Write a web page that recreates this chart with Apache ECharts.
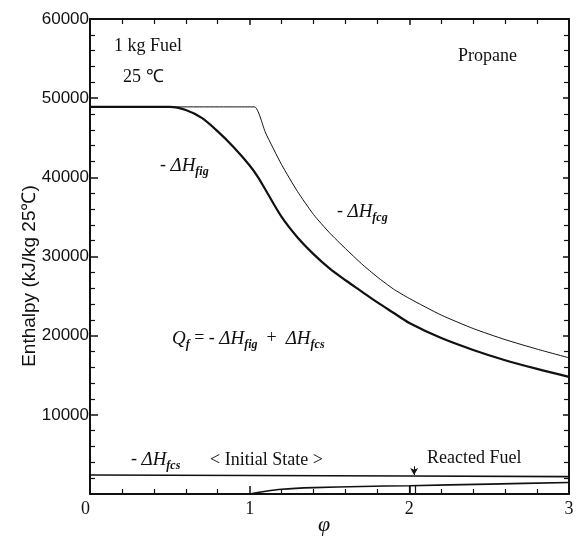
<!DOCTYPE html>
<html>
<head>
<meta charset="utf-8">
<script src="https://cdn.jsdelivr.net/npm/echarts@6/dist/echarts.min.js"></script>
<style>
  html, body { margin: 0; padding: 0; background: #fff; }
  #chart { width: 577px; height: 539px; }
</style>
</head>
<body>
<div id="chart"></div>
<script>
// Equivalence ratio (phi) vs enthalpy per kg of propane at 25 °C
const phiFcg = [0, 0.9, 1.03, 1.1, 1.2, 1.3, 1.4, 1.5, 1.6, 1.7, 1.8, 1.9, 2.0, 2.2, 2.4, 2.6, 2.8, 3.0];
const hFcg   = [48900, 48900, 48900, 45600, 41600, 38200, 35300, 33000, 31000, 29100, 27400, 25900, 24700, 22600, 20900, 19500, 18300, 17200];

const phiFig = [0, 0.5, 0.6, 0.7, 0.8, 0.9, 1.0, 1.05, 1.1, 1.2, 1.3, 1.4, 1.5, 1.6, 1.7, 1.8, 1.9, 2.0, 2.2, 2.4, 2.6, 2.8, 3.0];
const hFig   = [48900, 48900, 48500, 47500, 45800, 43800, 41500, 40100, 38400, 35000, 32400, 30300, 28500, 27000, 25600, 24200, 22900, 21600, 19700, 18200, 16900, 15800, 14800];

const phiFcs = [0, 1, 2, 3];
const hFcs   = [2400, 2330, 2270, 2200];

const phiReacted = [1.0, 1.1, 1.2, 1.4, 1.7, 2.0, 2.5, 3.0];
const hReacted   = [0, 350, 600, 800, 950, 1050, 1250, 1450];

const xTicks = [0, 1, 2, 3];
const yTicks = [10000, 20000, 30000, 40000, 50000, 60000];

const zip = (xs, ys) => xs.map((x, i) => [x, ys[i]]);

const serif = 'Liberation Serif';
const ink = '#111';

function subLabel(prefix, sym, sub) {
  return '{n|' + prefix + '}{i|' + sym + '}{s|' + sub + '}';
}
const subRich = {
  n: { fontFamily: serif, fontSize: 18, lineHeight: 24, fill: ink, verticalAlign: 'middle' },
  i: { fontFamily: serif, fontSize: 19, fontStyle: 'italic', lineHeight: 24, fill: ink, verticalAlign: 'middle' },
  s: { fontFamily: serif, fontSize: 12, fontStyle: 'italic', fontWeight: 'bold', lineHeight: 12, fill: ink, verticalAlign: 'bottom' }
};

function label(text, left, top, size) {
  return { type: 'text', left: left, top: top, silent: true,
    style: { text: text, fontFamily: serif, fontSize: size || 18, fill: ink } };
}
function richLabel(text, left, top) {
  return { type: 'text', left: left, top: top, silent: true,
    style: { text: text, rich: subRich, fill: ink } };
}

const chart = echarts.init(document.getElementById('chart'), null, { renderer: 'canvas' });

const axisLine = { show: true, onZero: false, lineStyle: { color: ink, width: 2 } };
const frameTick = { show: true, inside: true, length: 6, lineStyle: { color: ink, width: 1.5 } };
const minor = { show: true, splitNumber: 5, length: 5, lineStyle: { color: ink, width: 1.2 } };

const option = {
  backgroundColor: '#fff',
  animation: false,
  grid: { left: 90, right: 8, top: 19, bottom: 45, containLabel: false },
  xAxis: [
    {
      type: 'value', min: 0, max: 3, interval: 1, position: 'bottom',
      axisLine: axisLine,
      axisTick: { show: true, inside: true, length: 8, lineStyle: { color: ink, width: 1.5 } },
      minorTick: minor,
      splitLine: { show: false },
      axisLabel: {
        margin: 6, fontFamily: serif, fontSize: 18, color: ink,
        alignMinLabel: 'right',
        formatter: v => xTicks.indexOf(v) >= 0 ? String(v) : ''
      }
    },
    {
      type: 'value', min: 0, max: 3, interval: 1, position: 'top',
      axisLine: axisLine, axisTick: frameTick, minorTick: minor,
      splitLine: { show: false },
      axisLabel: { show: false }
    }
  ],
  yAxis: [
    {
      type: 'value', min: 0, max: 60000, interval: 10000, position: 'left',
      axisLine: axisLine,
      axisTick: { show: true, inside: true, length: 8, lineStyle: { color: ink, width: 1.5 } },
      minorTick: minor,
      splitLine: { show: false },
      axisLabel: {
        margin: 1, fontFamily: 'Liberation Sans', fontSize: 17, color: ink,
        formatter: v => yTicks.indexOf(v) >= 0 ? String(v) : ''
      }
    },
    {
      type: 'value', min: 0, max: 60000, interval: 10000, position: 'right',
      axisLine: axisLine, axisTick: frameTick, minorTick: minor,
      splitLine: { show: false },
      axisLabel: { show: false }
    }
  ],
  series: [
    {
      name: '-ΔHfcg', type: 'line', smooth: 0.2, showSymbol: false,
      data: zip(phiFcg, hFcg),
      lineStyle: { color: ink, width: 1 }
    },
    {
      name: '-ΔHfig', type: 'line', smooth: 0.3, showSymbol: false,
      data: zip(phiFig, hFig),
      lineStyle: { color: ink, width: 2.2 }
    },
    {
      name: '-ΔHfcs', type: 'line', showSymbol: false,
      data: zip(phiFcs, hFcs),
      lineStyle: { color: ink, width: 1.6 },
      markLine: {
        silent: true, symbol: ['none', 'arrow'], symbolSize: [6, 7],
        label: { show: false },
        lineStyle: { color: ink, width: 1, type: 'solid' },
        data: [[{ coord: [2.03, 3500] }, { coord: [2.03, 2400] }]]
      }
    },
    {
      name: 'Reacted Fuel', type: 'line', smooth: 0.3, showSymbol: false,
      data: zip(phiReacted, hReacted),
      lineStyle: { color: ink, width: 1.6 },
      markLine: {
        silent: true, symbol: 'none', label: { show: false },
        lineStyle: { color: ink, width: 1.2, type: 'solid' },
        data: [
          [{ coord: [2.0, 0] }, { coord: [2.0, 1050] }],
          [{ coord: [2.04, 0] }, { coord: [2.04, 1060] }]
        ]
      }
    }
  ],
  graphic: [
    label('1 kg Fuel', 114, 37),
    label('25 ℃', 123, 68),
    label('Propane', 458, 47),
    richLabel(subLabel('- ', 'ΔH', 'fig'), 160, 156),
    richLabel(subLabel('- ', 'ΔH', 'fcg'), 337, 202),
    {
      type: 'text', left: 172, top: 329, silent: true,
      style: {
        text: '{i|Q}{s|f}{n| = - }{i|ΔH}{s|fig}{n|  +  }{i|ΔH}{s|fcs}',
        rich: subRich, fill: ink
      }
    },
    richLabel(subLabel('- ', 'ΔH', 'fcs'), 131, 450),
    label('< Initial State >', 210, 451),
    label('Reacted Fuel', 427, 449),
    {
      type: 'text', left: 318, top: 514, silent: true,
      style: { text: 'φ', fontFamily: serif, fontSize: 22, fontStyle: 'italic', fill: ink }
    },
    {
      type: 'text', x: 30, y: 276, rotation: Math.PI / 2, silent: true,
      style: {
        text: 'Enthalpy (kJ/kg 25℃)', fontFamily: 'Liberation Sans', fontSize: 19,
        fill: ink, align: 'center', verticalAlign: 'middle'
      }
    }
  ]
};

chart.setOption(option);
</script>
</body>
</html>
